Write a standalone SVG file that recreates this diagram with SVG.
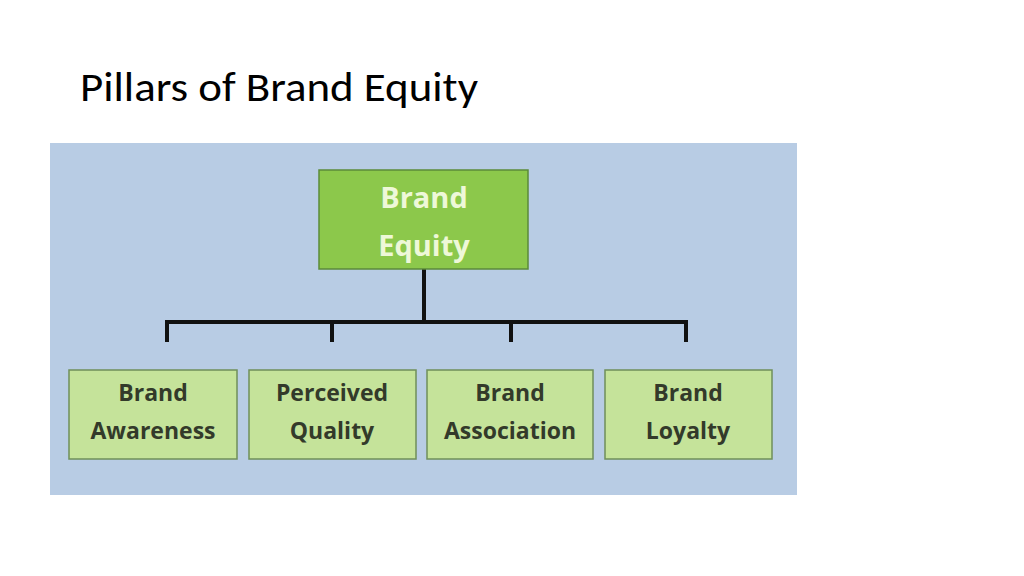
<svg xmlns="http://www.w3.org/2000/svg" width="1024" height="576" viewBox="0 0 1024 576">
<style>
.t{font-family:"Open Sans","DejaVu Sans",sans-serif;font-weight:bold;text-anchor:middle}
.c{fill:#c5e39a;stroke:#6f8f5a;stroke-width:1.5}
.ct{font-size:23px;fill:#333a2a}
</style>
<rect width="1024" height="576" fill="#ffffff"/>
<text x="80" y="101" font-family="Calibri,'Liberation Sans',Carlito,sans-serif" font-size="40" textLength="398" lengthAdjust="spacingAndGlyphs" fill="#000">Pillars of Brand Equity</text>
<rect x="50" y="143" width="747" height="352" fill="#b8cce4"/>
<g id="connectors" stroke="#111" stroke-width="4" fill="none">
<path d="M424 269V322M167 342V322H686V342M332 322V342M511 322V342"/>
</g>
<g id="equity"><rect x="319" y="170" width="209" height="99" fill="#8cc84b" stroke="#5b8a3a" stroke-width="1.5"/>
<text class="t" x="424" y="208" font-size="29" fill="#eef8d8">Brand</text><text class="t" x="424" y="256" font-size="29" fill="#eef8d8">Equity</text></g>
<g id="awareness"><rect class="c" x="69" y="370" width="168" height="89"/><text class="t ct" x="153" y="401">Brand</text><text class="t ct" x="153" y="439">Awareness</text></g>
<g id="quality"><rect class="c" x="249" y="370" width="167" height="89"/><text class="t ct" x="332" y="401">Perceived</text><text class="t ct" x="332" y="439">Quality</text></g>
<g id="association"><rect class="c" x="427" y="370" width="166" height="89"/><text class="t ct" x="510" y="401">Brand</text><text class="t ct" x="510" y="439">Association</text></g>
<g id="loyalty"><rect class="c" x="605" y="370" width="167" height="89"/><text class="t ct" x="688" y="401">Brand</text><text class="t ct" x="688" y="439">Loyalty</text></g>
</svg>
